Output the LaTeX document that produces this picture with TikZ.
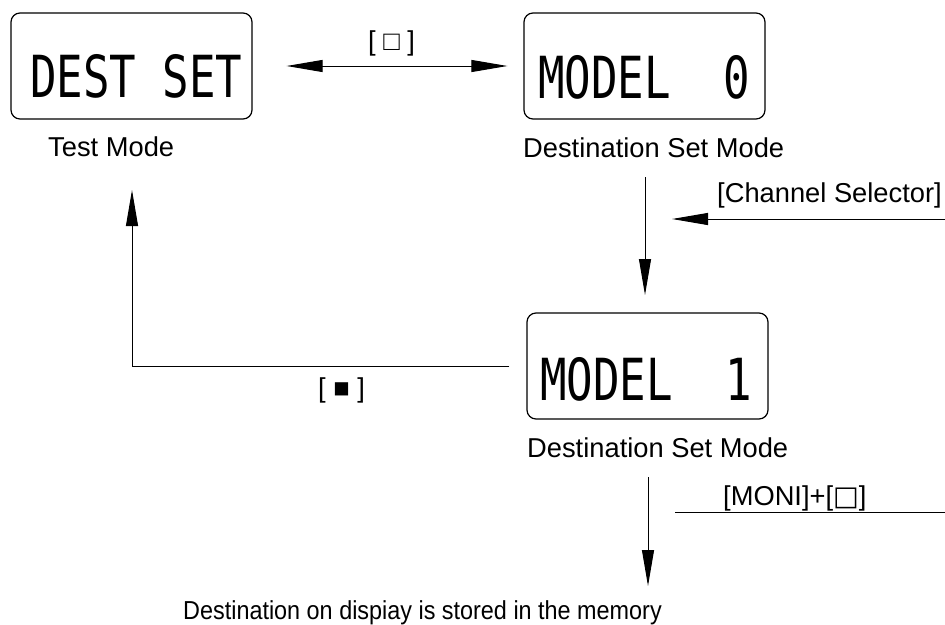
\documentclass[tikz,border=0pt]{standalone}
\usepackage{fontspec}
\setmainfont{Liberation Sans}
\newfontfamily\lcdfont[FakeStretch=0.76]{DejaVu Sans Mono}
\newfontfamily\boxfont{DejaVu Sans}
\usetikzlibrary{arrows.meta}
\begin{document}
\begin{tikzpicture}[x=1pt,y=-1pt,
  lcdbox/.style={draw, line width=1.2pt, rounded corners=9pt, minimum width=241pt, minimum height=106pt, inner sep=0pt},
  lcd/.style={font=\lcdfont\fontsize{58}{60}\selectfont, anchor=base west, inner sep=0pt},
  lbl/.style={font=\fontsize{27.3}{30}\selectfont, anchor=base west, inner sep=0pt},
  conn/.style={line width=1pt},
  headarrow/.style={-{Triangle[length=36pt,width=12pt]}}
]
\useasboundingbox (0,0) rectangle (945,624);
% display boxes
\node[lcdbox] (b1) at (131.5,66) {};
\node[lcdbox] (b2) at (644.5,66) {};
\node[lcdbox] (b3) at (647.5,366) {};
\node[lcd] (t1) at (30,97) {DEST\phantom{0}SET};
\node[lcd] (t2) at (538,98) {MODEL\phantom{00}0};
\node[lcd] (t3) at (540,400) {MODEL\phantom{00}1};
% labels
\node[lbl] (l1) at (48,156) {Test Mode};
\node[lbl] (l2) at (523,157) {Destination Set Mode};
\node[lbl] (l3) at (527,457) {Destination Set Mode};
\node[lbl] (k1) at (368,50) {[ □ ]};
\node[lbl] (k2) at (717,202) {[Channel Selector]};
\node[lbl] (k3) at (318,397) {[ ■ ]};
\node[lbl] (k4) at (723,505) {[MONI]+[{\boxfont □}]};
\node[lbl, font=\addfontfeature{FakeStretch=0.9}\fontsize{26}{28}\selectfont] (fin) at (183,619) {Destination on dispiay is stored in the memory};
% coordinates
\coordinate (v1) at (645,177);
\coordinate (v2) at (645,295);
\coordinate (c1) at (945,219);
\coordinate (c2) at (672,219);
\coordinate (r1) at (132,366);
\coordinate (r2) at (132,190);
\coordinate (d1) at (648,477);
\coordinate (d2) at (648,586);
\coordinate (m1) at (675,512);
\coordinate (m2) at (945,512);
% connectors
\draw[conn, {Triangle[length=36pt,width=12pt]}-{Triangle[length=36pt,width=12pt]}, shorten <=34pt, shorten >=16pt] (b1.east) -- (b2.west);
\draw[conn, headarrow] (v1) -- (v2);
\draw[conn, headarrow] (c1) -- (c2);
\draw[conn, headarrow, shorten <=17pt] (b3.west) -- (r1) -- (r2);
\draw[conn, headarrow] (d1) -- (d2);
\draw[conn] (m1) -- (m2);
\end{tikzpicture}
\end{document}
